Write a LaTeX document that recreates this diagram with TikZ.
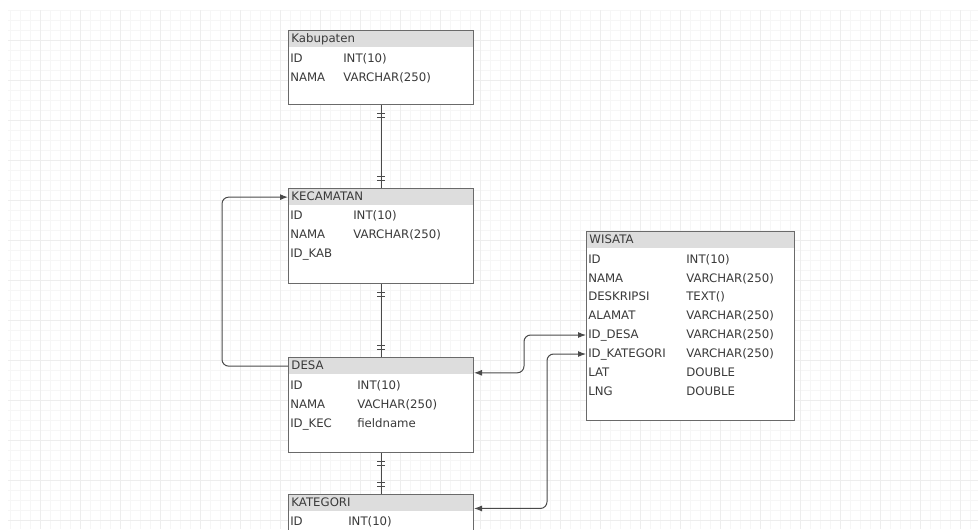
\documentclass[tikz,border=0pt]{standalone}
\usepackage{fontspec}
\setmainfont{DejaVu Sans}
\usepackage{tikz}
\usetikzlibrary{arrows.meta,positioning,decorations.markings}

\definecolor{linegray}{HTML}{4A4A4A}
\definecolor{boxgray}{HTML}{6A6A6A}
\definecolor{hdrgray}{HTML}{DDDDDD}
\definecolor{txtgray}{HTML}{3A3A3A}
\definecolor{gridminor}{HTML}{F6F6F6}
\definecolor{gridmajor}{HTML}{EDEDED}

\begin{document}
\begin{tikzpicture}[
    x=0.75pt, y=-0.75pt,
    tbl/.style={draw=boxgray, fill=white, line width=0.75pt, anchor=north west, inner sep=0pt},
    hdr/.style={fill=hdrgray, anchor=north west, inner xsep=2pt, inner ysep=0pt,
        minimum height=12.5pt, text width=#1, align=left, text height=6.6pt, text depth=1.8pt,
        font=\fontsize{8.8}{10}\selectfont, text=txtgray},
    fld/.style={anchor=west, inner sep=0pt, text=txtgray, text height=6.6pt, text depth=1.8pt,
        font=\fontsize{8.8}{10}\selectfont},
    conn/.style={draw=linegray, line width=0.75pt},
    bars/.style={conn, postaction={decorate}, decoration={markings,
        mark=at position 6pt with {\draw[linegray, line width=0.75pt] (0,-3pt) -- (0,3pt);},
        mark=at position 9pt with {\draw[linegray, line width=0.75pt] (0,-3pt) -- (0,3pt);},
        mark=at position -6pt with {\draw[linegray, line width=0.75pt] (0,-3pt) -- (0,3pt);},
        mark=at position -9pt with {\draw[linegray, line width=0.75pt] (0,-3pt) -- (0,3pt);}}},
    link/.style={conn, rounded corners=5pt},
    >={Latex[length=6pt,width=4.5pt]}
]

\useasboundingbox (0,0) rectangle (978,529);
\fill[white] (0,0) rectangle (978,529);

% background grid
\draw[gridminor, line width=0.4pt, step=7.5pt] (8,10) grid (978,529);
\draw[gridmajor, line width=0.4pt, step=30pt] (8,10) grid (978,529);

% tables
\node[tbl, minimum width=138.75pt, minimum height=55.5pt] (kab) at (288,30) {};
\node[hdr=133.95pt] (kabh) at ([xshift=0.4pt,yshift=-0.4pt]kab.north west) {Kabupaten};
\node[fld] (kab1) at (290,59) {ID};
\node[fld] (kab1t) at (343,59) {INT(10)};
\node[fld] (kab2) at (290,78) {NAMA};
\node[fld] (kab2t) at (343,78) {VARCHAR(250)};

\node[tbl, minimum width=138.75pt, minimum height=71.25pt] (kec) at (288,188) {};
\node[hdr=133.95pt] (kech) at ([xshift=0.4pt,yshift=-0.4pt]kec.north west) {KECAMATAN};
\node[fld] (kec1) at (290,216) {ID};
\node[fld] (kec1t) at (353,216) {INT(10)};
\node[fld] (kec2) at (290,235) {NAMA};
\node[fld] (kec2t) at (353,235) {VARCHAR(250)};
\node[fld] (kec3) at (290,254) {ID\_KAB};

\node[tbl, minimum width=138.75pt, minimum height=71.25pt] (desa) at (288,357) {};
\node[hdr=133.95pt] (desah) at ([xshift=0.4pt,yshift=-0.4pt]desa.north west) {DESA};
\node[fld] (desa1) at (290,386) {ID};
\node[fld] (desa1t) at (357,386) {INT(10)};
\node[fld] (desa2) at (290,405) {NAMA};
\node[fld] (desa2t) at (357,405) {VACHAR(250)};
\node[fld] (desa3) at (290,424) {ID\_KEC};
\node[fld] (desa3t) at (357,424) {fieldname};

\node[tbl, minimum width=138.75pt, minimum height=60pt] (kat) at (288,494) {};
\node[hdr=133.95pt] (kath) at ([xshift=0.4pt,yshift=-0.4pt]kat.north west) {KATEGORI};
\node[fld] (kat1) at (290,522) {ID};
\node[fld] (kat1t) at (348,522) {INT(10)};

\node[tbl, minimum width=156pt, minimum height=141.75pt] (wis) at (586,231) {};
\node[hdr=151.2pt] (wish) at ([xshift=0.4pt,yshift=-0.4pt]wis.north west) {WISATA};
\node[fld] (wis1) at (588,260) {ID};
\node[fld] (wis1t) at (686,260) {INT(10)};
\node[fld] (wis2) at (588,279) {NAMA};
\node[fld] (wis2t) at (686,279) {VARCHAR(250)};
\node[fld] (wis3) at (588,297) {DESKRIPSI};
\node[fld] (wis3t) at (686,297) {TEXT()};
\node[fld] (wis4) at (588,316) {ALAMAT};
\node[fld] (wis4t) at (686,316) {VARCHAR(250)};
\node[fld] (wis5) at (588,335) {ID\_DESA};
\node[fld] (wis5t) at (686,335) {VARCHAR(250)};
\node[fld] (wis6) at (588,354) {ID\_KATEGORI};
\node[fld] (wis6t) at (686,354) {VARCHAR(250)};
\node[fld] (wis7) at (588,373) {LAT};
\node[fld] (wis7t) at (686,373) {DOUBLE};
\node[fld] (wis8) at (588,392) {LNG};
\node[fld] (wis8t) at (686,392) {DOUBLE};

% relations
\draw[bars] (kab.south) -- (kec.north);
\draw[bars] (kec.south) -- (desa.north);
\draw[bars] (desa.south) -- (kat.north);

\draw[link, ->] (desa.west |- desah) -- ++(-66,0) |- (kec.west |- kech);
\draw[link, <->] ([yshift=-5pt]desa.east |- desah) -- ++(50,0) |- (wis.west |- wis5);
\draw[link, <->] (wis.west |- wis6) -- ++(-39,0) |- ([yshift=-4pt]kat.east |- kath);

\end{tikzpicture}
\end{document}
